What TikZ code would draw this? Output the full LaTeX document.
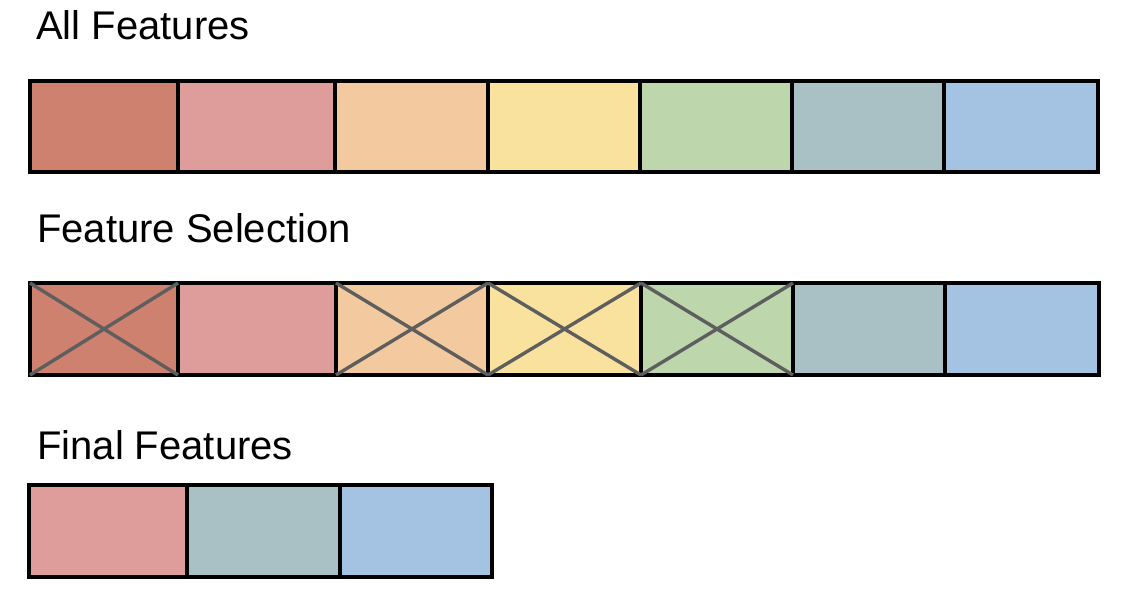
\documentclass[tikz,border=0pt]{standalone}
\usepackage{fontspec}
\setmainfont{Liberation Sans}
\definecolor{cA}{HTML}{CF8170}
\definecolor{cB}{HTML}{DE9C9A}
\definecolor{cC}{HTML}{F3CA9F}
\definecolor{cD}{HTML}{F8E29E}
\definecolor{cE}{HTML}{BDD6AB}
\definecolor{cF}{HTML}{A9C1C4}
\definecolor{cG}{HTML}{A4C3E2}
\definecolor{crossgray}{HTML}{5E5E5E}
\tikzset{
  cell/.style={draw=black, line width=4pt, rectangle, inner sep=0pt, outer sep=0pt, anchor=north west},
  title/.style={anchor=base west, inner sep=0pt, font=\fontsize{40}{48}\selectfont},
  xline/.style={draw=crossgray, line width=3.4pt}
}
\begin{document}
\begin{tikzpicture}[x=1pt,y=-1pt]
\useasboundingbox (0,0) rectangle (1147,614);
% titles
\node[title] (t1) at (36,39) {All Features};
\node[title] (t2) at (37,242) {Feature Selection};
\node[title] (t3) at (37,459) {Final Features};
% row 1
\foreach \n/\xa/\xb/\c in {1/30/178/cA,2/178/335/cB,3/335/488/cC,4/488/640/cD,5/640/792/cE,6/792/944/cF,7/944/1098/cG}{
  \pgfmathsetmacro{\w}{\xb-\xa}
  \node[cell, fill=\c, minimum width=\w pt, minimum height=91pt] (a\n) at (\xa,81) {};
}
% row 2
\foreach \n/\xa/\xb/\c in {1/30/178/cA,2/178/336/cB,3/336/488/cC,4/488/641/cD,5/641/793/cE,6/793/945/cF,7/945/1099/cG}{
  \pgfmathsetmacro{\w}{\xb-\xa}
  \node[cell, fill=\c, minimum width=\w pt, minimum height=92pt] (b\n) at (\xa,283) {};
}
\foreach \n in {1,3,4,5}{
  \draw[xline] (b\n.north west) -- (b\n.south east);
  \draw[xline] (b\n.south west) -- (b\n.north east);
}
% row 3
\foreach \n/\xa/\xb/\c in {1/29/187/cB,2/187/340/cF,3/340/492/cG}{
  \pgfmathsetmacro{\w}{\xb-\xa}
  \node[cell, fill=\c, minimum width=\w pt, minimum height=92pt] (c\n) at (\xa,485) {};
}
\end{tikzpicture}
\end{document}
